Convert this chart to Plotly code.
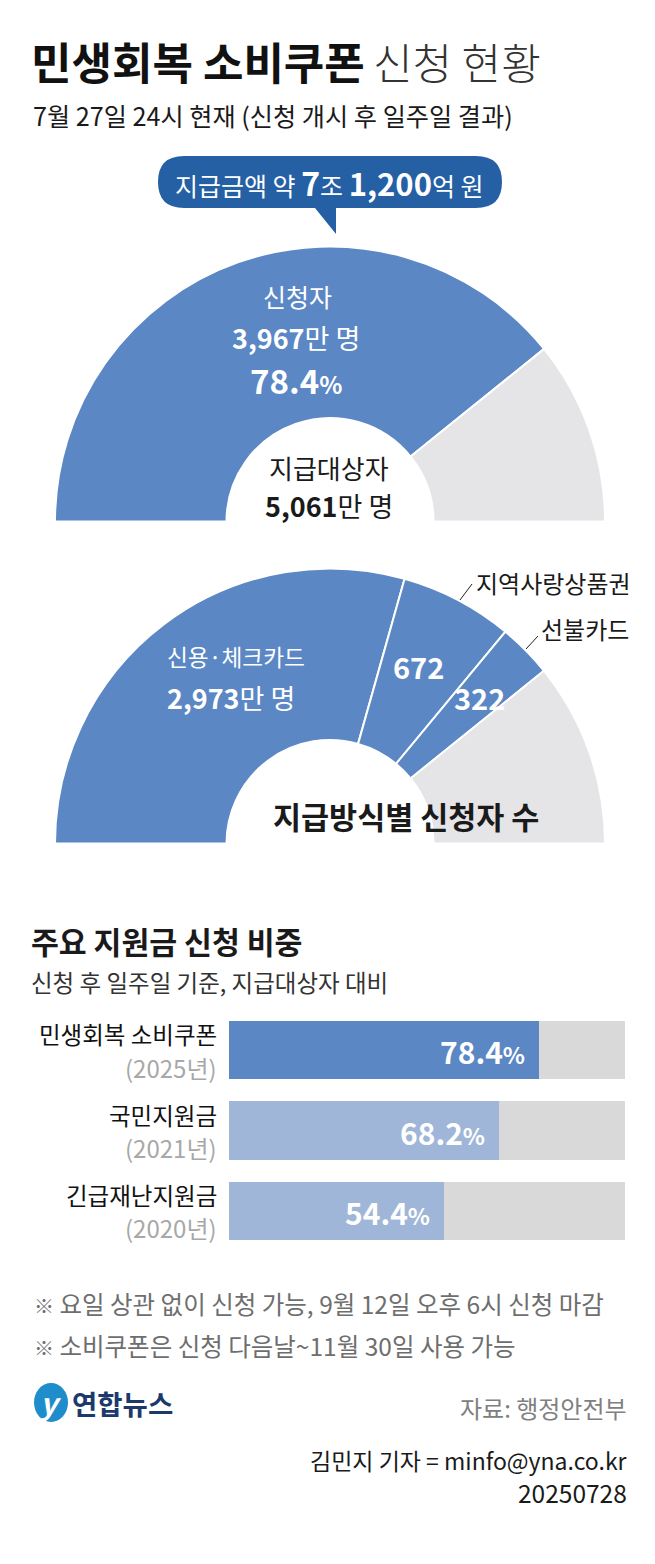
import plotly.graph_objects as go

W, H = 655, 1564
FONT = "Noto Sans CJK KR"
BLUE = "#5b87c5"
GRAY = "#e5e5e7"
CLEAR = "rgba(0,0,0,0)"

# data
apply_labels = ["신청자", "미신청", ""]
apply_values = [78.4, 21.6, 100]
method_labels = ["신용·체크카드", "지역사랑상품권", "선불카드", "미신청", ""]
method_values = [2973, 672, 322, 1094, 5061]
bar_names = ["민생회복 소비쿠폰", "국민지원금", "긴급재난지원금"]
bar_years = ["(2025년)", "(2021년)", "(2020년)"]
bar_values = [78.4, 68.2, 54.4]
bar_rest = [21.6, 31.8, 45.6]
bar_colors = ["#5b87c5", "#a0b6d8", "#a0b6d8"]


def fx(x):
    return x / W


def fy(y):
    return 1 - y / H


def T(x, y, text, size, color="#1a1a1a", anchor="center", weight=None):
    font = dict(family=FONT, size=size, color=color)
    if weight:
        font["weight"] = weight
    return dict(x=fx(x), y=fy(y), xref="paper", yref="paper", text=text, showarrow=False, align=anchor,
                xanchor=anchor, yanchor="middle", font=font, borderpad=0, borderwidth=0)


def half_donut(labels, values, colors, cy):
    R = 275
    return go.Pie(
        labels=labels, values=values, sort=False, direction="clockwise", rotation=270,
        hole=103.5 / 275, textinfo="none", hoverinfo="skip", showlegend=False,
        domain=dict(x=[fx(330 - R), fx(330 + R)], y=[fy(cy + R), fy(cy - R)]),
        marker=dict(colors=colors, line=dict(color=["white"] * (len(values) - 1) + [CLEAR], width=2)),
    )


fig = go.Figure()
fig.add_trace(half_donut(apply_labels, apply_values, [BLUE, GRAY, CLEAR], 521.5))
fig.add_trace(half_donut(method_labels, method_values, [BLUE, BLUE, BLUE, GRAY, CLEAR], 843.5))

fig.add_trace(go.Bar(y=bar_names, x=bar_values, orientation="h", marker=dict(color=bar_colors, line_width=0),
                     hoverinfo="skip", showlegend=False))
fig.add_trace(go.Bar(y=bar_names, x=bar_rest, orientation="h", marker=dict(color="#d9d9d9", line_width=0),
                     hoverinfo="skip", showlegend=False))

ann = [
    T(31, 61, "<b>민생회복 소비쿠폰</b>", 44, "#111111", "left"),
    T(373, 61, "신청 현황", 43, "#333333", "left", 300),
    T(33, 115, "7월 27일 24시 현재 (신청 개시 후 일주일 결과)", 25.2, "#1a1a1a", "left"),
    T(330, 182, "지급금액 약 <b><span style='font-size:32px'>7</span></b>조 <b><span style='font-size:31px'>1,200</span></b>억 원", 25, "white"),
    T(297, 296, "신청자", 25, "white"),
    T(296, 337, "<b>3,967</b>만 명", 27, "white"),
    T(296, 380, "<b>78.4<span style='font-size:24px'>%</span></b>", 33, "white"),
    T(329, 467, "지급대상자", 26),
    T(329, 506, "<b>5,061</b>만 명", 27),
    T(236, 656, "신용·체크카드", 22.7, "white"),
    T(231, 697, "<b>2,973</b>만 명", 27, "white"),
    T(418, 666, "<b>672</b>", 29, "white"),
    T(479, 697, "<b>322</b>", 29, "white"),
    T(553, 582, "지역사랑상품권", 24),
    T(585, 628, "선불카드", 24),
    T(406, 816, "<b>지급방식별 신청자 수</b>", 30.5),
    T(31, 941, "<b>주요 지원금 신청 비중</b>", 30.3, "#1a1a1a", "left"),
    T(31, 982, "신청 후 일주일 기준, 지급대상자 대비", 23.5, "#333333", "left"),
    T(34, 1303, "<span style='font-size:20px'>※</span> 요일 상관 없이 신청 가능, 9월 12일 오후 6시 신청 마감", 24.5, "#6e6e6e", "left"),
    T(34, 1345, "<span style='font-size:20px'>※</span> 소비쿠폰은 신청 다음날~11월 30일 사용 가능", 24.5, "#6e6e6e", "left"),
    T(72, 1403, "<b>연합뉴스</b>", 27.5, "#1b3a6b", "left"),
    T(50, 1402, "<b><i>y</i></b>", 30, "white"),
    T(627, 1407, "자료: 행정안전부", 24, "#808080", "right"),
    T(627, 1460, "김민지 기자 = minfo@yna.co.kr", 23, "#1a1a1a", "right"),
    T(627, 1492, "20250728", 24.5, "#1a1a1a", "right"),
]

for i, (name, year, v) in enumerate(zip(bar_names, bar_years, bar_values)):
    ann.append(dict(x=fx(219), xref="paper", y=name, yref="y", yshift=16, text=name, showarrow=False, xanchor="right",
                    yanchor="middle", font=dict(family=FONT, size=23.5, color="#111111")))
    ann.append(dict(x=fx(219), xref="paper", y=name, yref="y", yshift=-17, text=year, showarrow=False, xanchor="right",
                    yanchor="middle", font=dict(family=FONT, size=24, color="#a8a8a8")))
    ann.append(dict(x=v, xref="x", y=name, yref="y", xshift=-12, yshift=-1,
                    text=f"<b>{v}<span style='font-size:23px'>%</span></b>", showarrow=False, xanchor="right",
                    yanchor="middle", font=dict(family=FONT, size=30, color="white")))


def P(x, y):
    return f"{fx(x)} {fy(y)}"


l, r, t, b, c = 158, 502, 156, 208, 26
callout = (f"M {P(l + c, t)} L {P(r - c, t)} Q {P(r, t)} {P(r, t + c)} Q {P(r, b)} {P(r - c, b)} "
           f"L {P(336, b)} L {P(336, 234)} L {P(315, b)} L {P(l + c, b)} Q {P(l, b)} {P(l, t + c)} "
           f"Q {P(l, t)} {P(l + c, t)} Z")

shapes = [
    dict(type="path", xref="paper", yref="paper", path=callout, fillcolor="#2560a4", line_width=0),
    dict(type="line", xref="paper", yref="paper", x0=fx(460), y0=fy(600), x1=fx(472), y1=fy(584),
         line=dict(color="#222222", width=1)),
    dict(type="line", xref="paper", yref="paper", x0=fx(526), y0=fy(649), x1=fx(538), y1=fy(636),
         line=dict(color="#222222", width=1)),
    dict(type="circle", xref="paper", yref="paper", x0=fx(34), y0=fy(1422), x1=fx(68), y1=fy(1383),
         fillcolor="#1f8ccb", line_width=0),
]

bar_gap_px = 22
pitch = (219 + bar_gap_px) / 3
fig.update_layout(
    width=W, height=H, margin=dict(l=0, r=0, t=0, b=0), paper_bgcolor="white", plot_bgcolor="white",
    barmode="stack", bargap=bar_gap_px / pitch, showlegend=False, annotations=ann, shapes=shapes,
    xaxis=dict(domain=[fx(229), fx(625)], range=[0, 100], visible=False, fixedrange=True),
    yaxis=dict(domain=[fy(1240 + bar_gap_px / 2), fy(1021 - bar_gap_px / 2)], type="category",
               categoryorder="array", categoryarray=bar_names, autorange="reversed", visible=False, fixedrange=True),
    font=dict(family=FONT),
)

fig.write_html("out.html", config=dict(displayModeBar=False),
               post_script="document.body.style.margin='0';document.documentElement.style.overflow='hidden';")
